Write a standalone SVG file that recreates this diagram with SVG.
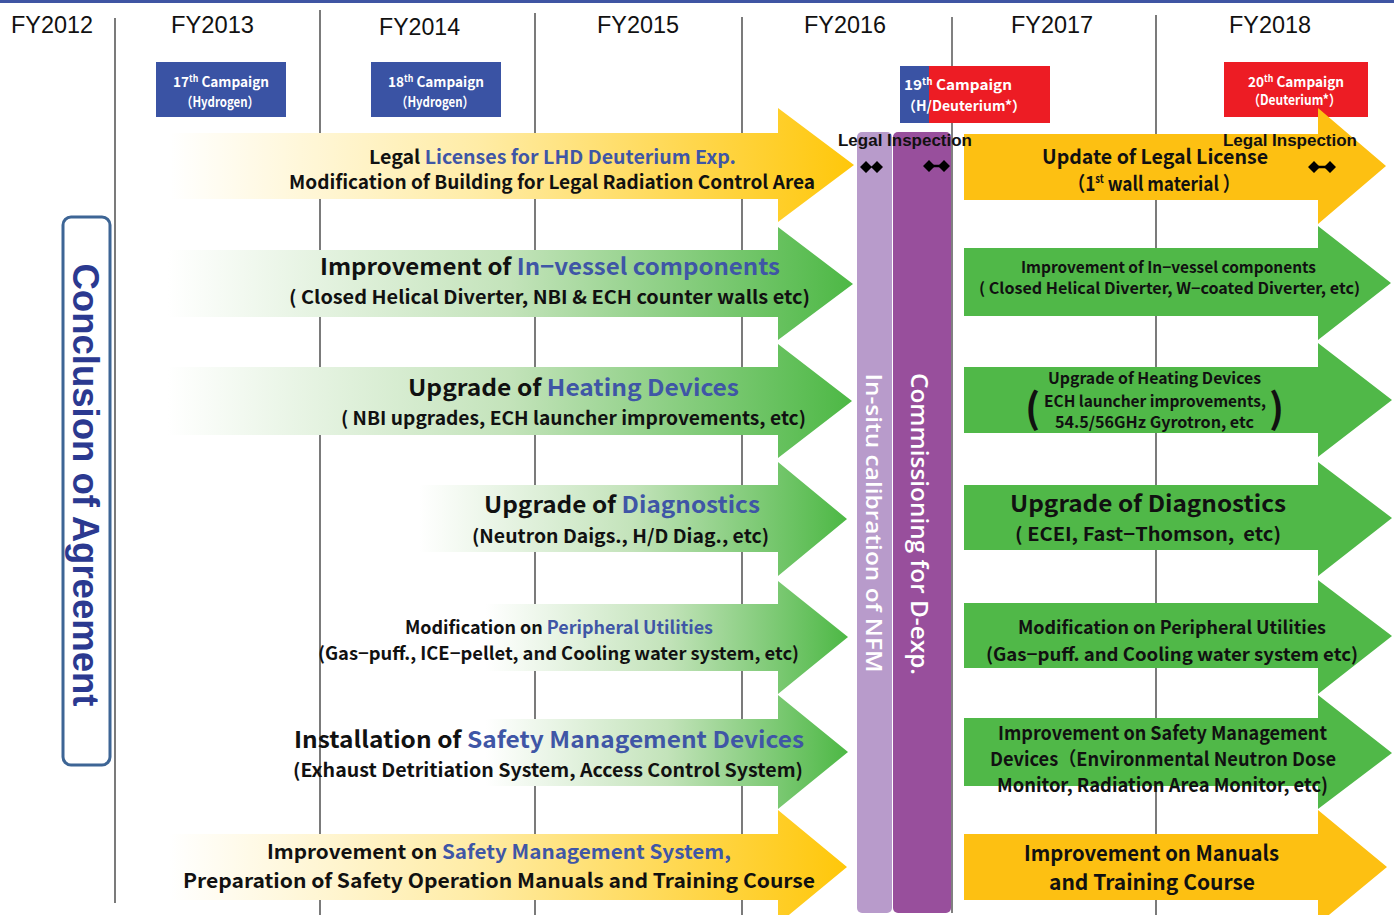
<svg xmlns="http://www.w3.org/2000/svg" width="1394" height="915" viewBox="0 0 1394 915">
<defs>
<style>
.fy{font-family:"Liberation Sans",Arial,sans-serif;font-size:23px;fill:#111}
.grid{stroke:#222;stroke-width:1.2}
.camp{font-family:"Noto Sans CJK JP","Liberation Sans",sans-serif;font-weight:bold;font-size:14px;fill:#fff}
.t{font-family:"Noto Sans CJK JP","Liberation Sans",sans-serif;font-weight:bold;fill:#111}
.b{fill:#3f56a6}
.li{font-family:"Liberation Sans",Arial,sans-serif;font-weight:bold;font-size:17px;fill:#111}
.vt{font-family:"Open Sans","Liberation Sans",sans-serif;font-weight:600;fill:#fff}
.green{fill:#50b848}
.orange{fill:#fdc012}
.sup{font-size:9px}
</style>
<linearGradient id="gy" x1="0" y1="0" x2="1" y2="0">
<stop offset="0" stop-color="#ffffff"/>
<stop offset="0.45" stop-color="#ffeca6"/>
<stop offset="1" stop-color="#ffc70a"/>
</linearGradient>
<linearGradient id="gg" x1="0" y1="0" x2="1" y2="0">
<stop offset="0" stop-color="#ffffff"/>
<stop offset="0.5" stop-color="#c3e3ba"/>
<stop offset="1" stop-color="#4db845"/>
</linearGradient>
</defs>
<rect x="0" y="0" width="1394" height="915" fill="#fff"/>
<rect x="0" y="0" width="1394" height="3" fill="#3f55a3"/>

<g id="connectors">
<line class="grid" x1="115" y1="18" x2="115" y2="903"/>
<line class="grid" x1="320" y1="10" x2="320" y2="915"/>
<line class="grid" x1="535" y1="13" x2="535" y2="915"/>
<line class="grid" x1="742" y1="17" x2="742" y2="915"/>
<line class="grid" x1="1156" y1="15" x2="1156" y2="915"/>
<line x1="952" y1="17" x2="952" y2="913" stroke="#808080" stroke-width="2"/>
</g>

<g id="years">
<text class="fy" x="11" y="33" textLength="82" lengthAdjust="spacingAndGlyphs">FY2012</text>
<text class="fy" x="171" y="33" textLength="83" lengthAdjust="spacingAndGlyphs">FY2013</text>
<text class="fy" x="379" y="35" textLength="81" lengthAdjust="spacingAndGlyphs">FY2014</text>
<text class="fy" x="597" y="33" textLength="82" lengthAdjust="spacingAndGlyphs">FY2015</text>
<text class="fy" x="804" y="33" textLength="82" lengthAdjust="spacingAndGlyphs">FY2016</text>
<text class="fy" x="1011" y="33" textLength="82" lengthAdjust="spacingAndGlyphs">FY2017</text>
<text class="fy" x="1229" y="33" textLength="82" lengthAdjust="spacingAndGlyphs">FY2018</text>
</g>

<g id="campaign17">
<rect x="156" y="62" width="130" height="55" fill="#3a53a4"/>
<text class="camp" x="173" y="87" textLength="96" lengthAdjust="spacingAndGlyphs">17<tspan class="sup" dy="-5">th</tspan><tspan dy="5"> Campaign</tspan></text>
<text class="camp" x="181" y="107" textLength="78" lengthAdjust="spacingAndGlyphs">（Hydrogen）</text>
</g>
<g id="campaign18">
<rect x="371" y="62" width="130" height="55" fill="#3a53a4"/>
<text class="camp" x="388" y="87" textLength="96" lengthAdjust="spacingAndGlyphs">18<tspan class="sup" dy="-5">th</tspan><tspan dy="5"> Campaign</tspan></text>
<text class="camp" x="396" y="107" textLength="78" lengthAdjust="spacingAndGlyphs">（Hydrogen）</text>
</g>
<g id="campaign19">
<rect x="900" y="66" width="30" height="57" fill="#3a53a4"/>
<rect x="929" y="66" width="121" height="57" fill="#ed1c24"/>
<text class="camp" x="904" y="90" textLength="108" lengthAdjust="spacingAndGlyphs">19<tspan class="sup" dy="-5">th</tspan><tspan dy="5"> Campaign</tspan></text>
<text class="camp" x="902" y="111" textLength="124" lengthAdjust="spacingAndGlyphs">（H/Deuterium*）</text>
</g>
<g id="campaign20">
<rect x="1224" y="62" width="144" height="55" fill="#ed1c24"/>
<text class="camp" x="1248" y="87" textLength="96" lengthAdjust="spacingAndGlyphs">20<tspan class="sup" dy="-5">th</tspan><tspan dy="5"> Campaign</tspan></text>
<text class="camp" x="1248" y="105" textLength="93" lengthAdjust="spacingAndGlyphs">（Deuterium*）</text>
</g>

<g id="agreement">
<rect x="63" y="217" width="47" height="548" rx="8" fill="#fff" stroke="#3d6595" stroke-width="3"/>
<g transform="translate(86,485) rotate(90)">
<text x="0" y="13" text-anchor="middle" font-family="Liberation Sans, Arial, sans-serif" font-weight="bold" font-size="37" fill="#2b3990" textLength="443" lengthAdjust="spacingAndGlyphs">Conclusion of Agreement</text>
</g>
</g>

<g id="L1">
<path d="M170 133 H778 V108 L854 165 L778 222 V199 H170 Z" fill="url(#gy)"/>
<text class="t" font-size="19" x="369" y="164" textLength="367" lengthAdjust="spacingAndGlyphs">Legal <tspan class="b">Licenses for LHD Deuterium Exp.</tspan></text>
<text class="t" font-size="19" x="289" y="189" textLength="526" lengthAdjust="spacingAndGlyphs">Modification of Building for Legal Radiation Control Area</text>
</g>
<g id="L2">
<path d="M168 250 H778 V227 L853 284 L778 340 V317 H168 Z" fill="url(#gg)"/>
<text class="t" font-size="23" x="320" y="275" textLength="460" lengthAdjust="spacingAndGlyphs">Improvement of <tspan class="b">In−vessel components</tspan></text>
<text class="t" font-size="18.5" x="289" y="304" textLength="521" lengthAdjust="spacingAndGlyphs">( Closed Helical Diverter, NBI &amp; ECH counter walls etc)</text>
</g>
<g id="L3">
<path d="M168 367 H778 V344 L852 401 L778 458 V435 H168 Z" fill="url(#gg)"/>
<text class="t" font-size="23" x="408" y="396" textLength="331" lengthAdjust="spacingAndGlyphs">Upgrade of <tspan class="b">Heating Devices</tspan></text>
<text class="t" font-size="18.5" x="341" y="425" textLength="465" lengthAdjust="spacingAndGlyphs">( NBI upgrades, ECH launcher improvements, etc)</text>
</g>
<g id="L4">
<path d="M419 485 H778 V462 L847 519 L778 576 V552 H419 Z" fill="url(#gg)"/>
<text class="t" font-size="23" x="484" y="513" textLength="276" lengthAdjust="spacingAndGlyphs">Upgrade of <tspan class="b">Diagnostics</tspan></text>
<text class="t" font-size="18.5" x="472" y="543" textLength="297" lengthAdjust="spacingAndGlyphs">(Neutron Daigs., H/D Diag., etc)</text>
</g>
<g id="L5">
<path d="M486 604 H778 V581 L848 637 L778 694 V671 H486 Z" fill="url(#gg)"/>
<text class="t" font-size="18" x="405" y="634" textLength="308" lengthAdjust="spacingAndGlyphs">Modification on <tspan class="b">Peripheral Utilities</tspan></text>
<text class="t" font-size="18" x="318" y="660" textLength="481" lengthAdjust="spacingAndGlyphs">(Gas−puff., ICE−pellet, and Cooling water system, etc)</text>
</g>
<g id="L6">
<path d="M486 719 H778 V695 L848 752 L778 809 V786 H486 Z" fill="url(#gg)"/>
<text class="t" font-size="23" x="294" y="748" textLength="510" lengthAdjust="spacingAndGlyphs">Installation of <tspan class="b">Safety Management Devices</tspan></text>
<text class="t" font-size="18.5" x="293" y="777" textLength="510" lengthAdjust="spacingAndGlyphs">(Exhaust Detritiation System, Access Control System)</text>
</g>
<g id="L7">
<path d="M169 834 H778 V810 L847 867 L778 924 V900 H169 Z" fill="url(#gy)"/>
<text class="t" font-size="19.5" x="267" y="859" textLength="464" lengthAdjust="spacingAndGlyphs">Improvement on <tspan class="b">Safety Management System,</tspan></text>
<text class="t" font-size="20" x="183" y="888" textLength="632" lengthAdjust="spacingAndGlyphs">Preparation of Safety Operation Manuals and Training Course</text>
</g>

<g id="nfm">
<rect x="857" y="132" width="35" height="781" rx="5" fill="#b89bcb"/>
<g transform="translate(874,523) rotate(90)">
<text class="vt" x="0" y="8" text-anchor="middle" font-size="22" textLength="299" lengthAdjust="spacingAndGlyphs">In-situ calibration of NFM</text>
</g>
</g>
<g id="commissioning">
<rect x="893" y="132" width="58" height="781" rx="5" fill="#984f9c"/>
<g transform="translate(920,524) rotate(90)">
<text class="vt" x="0" y="9" text-anchor="middle" font-size="24" textLength="302" lengthAdjust="spacingAndGlyphs">Commissioning for D-exp.</text>
</g>
</g>

<g id="R1">
<path d="M964 134 H1318 V108 L1386 166 L1318 224 V200 H964 Z" class="orange"/>
<text class="t" font-size="20" x="1042" y="164" textLength="226" lengthAdjust="spacingAndGlyphs">Update of Legal License</text>
<text class="t" font-size="20" x="1068" y="191" textLength="172" lengthAdjust="spacingAndGlyphs">（1<tspan font-size="11" dy="-8">st</tspan><tspan dy="8"> wall material ）</tspan></text>
</g>
<g id="R2">
<path d="M964 248 H1318 V226 L1391 283 L1318 340 V316 H964 Z" class="green"/>
<text class="t" font-size="15.5" x="1021" y="273" textLength="295" lengthAdjust="spacingAndGlyphs">Improvement of In−vessel components</text>
<text class="t" font-size="15.5" x="979" y="294" textLength="381" lengthAdjust="spacingAndGlyphs">( Closed Helical Diverter, W−coated Diverter, etc)</text>
</g>
<g id="R3">
<path d="M964 367 H1318 V343 L1392 400 L1318 457 V433 H964 Z" class="green"/>
<text class="t" font-size="15.5" x="1048" y="384" textLength="213" lengthAdjust="spacingAndGlyphs">Upgrade of Heating Devices</text>
<text class="t" font-size="15.5" x="1044" y="407" textLength="222" lengthAdjust="spacingAndGlyphs">ECH launcher improvements,</text>
<text class="t" font-size="15.5" x="1055" y="428" textLength="199" lengthAdjust="spacingAndGlyphs">54.5/56GHz Gyrotron, etc</text>
<text class="t" font-size="40" x="1025" y="423">(</text>
<text class="t" font-size="40" x="1269" y="423">)</text>
</g>
<g id="R4">
<path d="M964 485 H1318 V462 L1392 518 L1318 576 V550 H964 Z" class="green"/>
<text class="t" font-size="23" x="1010" y="512" textLength="276" lengthAdjust="spacingAndGlyphs">Upgrade of Diagnostics</text>
<text class="t" font-size="18.5" x="1015" y="541" textLength="266" lengthAdjust="spacingAndGlyphs">( ECEI, Fast−Thomson,&#160; etc)</text>
</g>
<g id="R5">
<path d="M964 603 H1318 V580 L1392 636 L1318 694 V668 H964 Z" class="green"/>
<text class="t" font-size="18" x="1018" y="634" textLength="308" lengthAdjust="spacingAndGlyphs">Modification on Peripheral Utilities</text>
<text class="t" font-size="18" x="986" y="661" textLength="372" lengthAdjust="spacingAndGlyphs">(Gas−puff. and Cooling water system etc)</text>
</g>
<g id="R6">
<path d="M964 718 H1318 V695 L1392 753 L1318 809 V786 H964 Z" class="green"/>
<text class="t" font-size="19" x="998" y="740" textLength="329" lengthAdjust="spacingAndGlyphs">Improvement on Safety Management</text>
<text class="t" font-size="19" x="990" y="766" textLength="346" lengthAdjust="spacingAndGlyphs">Devices（Environmental Neutron Dose</text>
<text class="t" font-size="19" x="997" y="792" textLength="331" lengthAdjust="spacingAndGlyphs">Monitor, Radiation Area Monitor, etc)</text>
</g>
<g id="R7">
<path d="M964 834 H1318 V810 L1387 867 L1318 924 V900 H964 Z" class="orange"/>
<text class="t" font-size="21.5" x="1024" y="861" textLength="255" lengthAdjust="spacingAndGlyphs">Improvement on Manuals</text>
<text class="t" font-size="21.5" x="1049" y="890" textLength="206" lengthAdjust="spacingAndGlyphs">and Training Course</text>
</g>

<g id="inspection1">
<text class="li" x="838" y="146" textLength="134" lengthAdjust="spacingAndGlyphs">Legal Inspection</text>
<path d="M860 167 L866 161 L872 167 L866 173 Z M871 167 L877 161 L883 167 L877 173 Z" fill="#000"/>
<line x1="929" y1="166" x2="944" y2="166" stroke="#000" stroke-width="2.5"/>
<path d="M923 166 L929 160 L935 166 L929 172 Z M938 166 L944 160 L950 166 L944 172 Z" fill="#000"/>
</g>
<g id="inspection2">
<text class="li" x="1223" y="146" textLength="134" lengthAdjust="spacingAndGlyphs">Legal Inspection</text>
<line x1="1314" y1="167" x2="1330" y2="167" stroke="#000" stroke-width="2.5"/>
<path d="M1308 167 L1314 161 L1320 167 L1314 173 Z M1324 167 L1330 161 L1336 167 L1330 173 Z" fill="#000"/>
</g>
</svg>
